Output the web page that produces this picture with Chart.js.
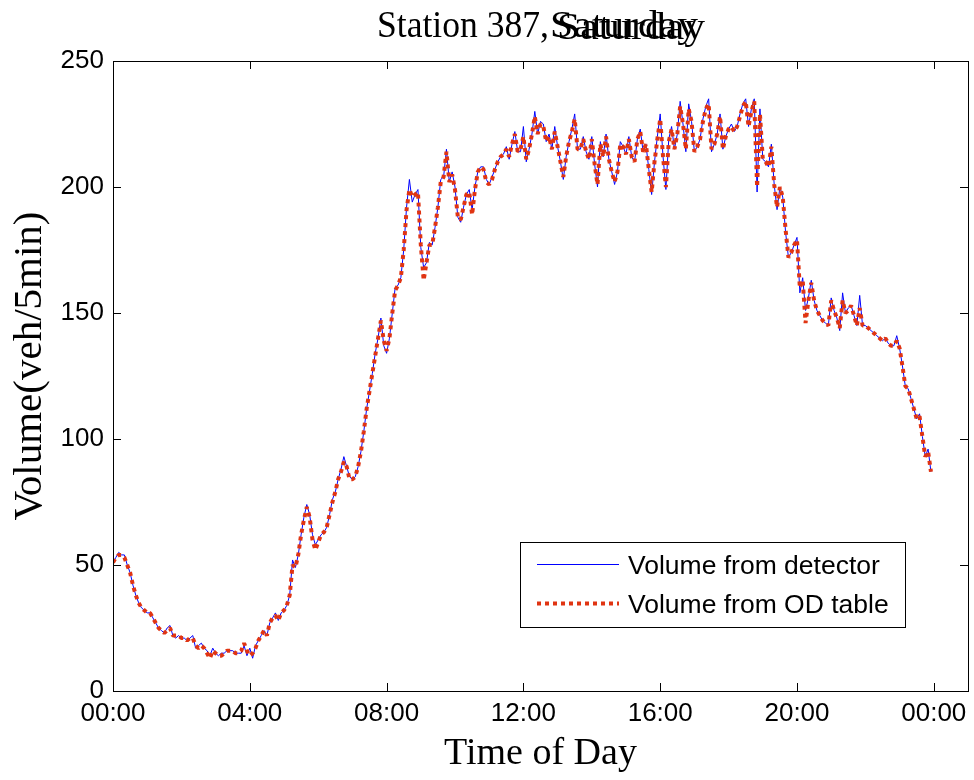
<!DOCTYPE html>
<html>
<head>
<meta charset="utf-8">
<title>Station 387, Saturday</title>
<script src="https://cdn.jsdelivr.net/npm/chart.js@4.4.1/dist/chart.umd.min.js"></script>
<style>
  html, body { margin: 0; padding: 0; background: #fff; }
  #wrap { width: 974px; height: 780px; }
</style>
</head>
<body>
<div id="wrap"><canvas id="my_Chart" width="974" height="780"></canvas></div>
<script>
// 5-minute volumes, 00:00 .. 23:55 (288 samples)
var detector = [
  51,53,55,54,54,50,47,42,38,35,33,32,
  31,31,29,27,25,24,23,25,26,22,21,22,
  21,21,20,21,22,17,18,19,17,16,14,17,
  15,14,15,15,16,16,16,15,15,15,18,14,
  17,13,18,20,22,24,22,27,29,31,28,31,
  32,34,38,52,49,54,62,69,74,70,62,58,
  60,62,63,65,70,76,79,84,88,93,89,85,
  84,85,89,95,103,112,119,126,134,140,148,137,
  134,140,150,160,161,164,175,192,203,194,197,199,
  176,168,170,178,177,184,192,203,204,215,202,206,
  200,188,186,192,197,199,191,200,206,208,208,203,
  201,204,207,210,212,213,216,211,217,222,214,214,
  224,210,215,221,230,221,226,225,218,221,215,224,
  216,210,203,212,218,223,229,215,215,220,214,211,
  220,209,200,218,212,221,211,206,201,206,218,216,
  213,220,212,210,219,223,214,217,207,197,210,220,
  229,212,199,219,224,215,221,234,225,214,233,226,
  214,216,219,227,232,235,214,217,221,229,215,220,
  223,225,222,224,229,233,235,224,231,235,198,231,
  211,210,208,217,201,191,200,196,182,172,174,177,
  180,158,164,151,156,163,155,151,149,147,146,145,
  156,151,148,143,158,150,152,153,149,145,157,145,
  145,144,143,142,141,140,139,140,138,137,137,141,
  136,129,121,120,116,112,108,110,101,93,96,87
];

var odTable = [
  51,53,54,54,53,50,47,42,38,35,33,32,
  31,31,29,27,25,24,23,24,25,22,22,22,
  21,21,20,21,21,18,17,18,17,15,13,16,
  15,14,14,15,16,16,16,15,15,16,19,16,
  14,15,17,20,22,24,22,27,29,30,28,31,
  32,34,38,50,49,54,62,68,73,69,60,56,
  59,62,63,65,70,75,79,84,87,91,89,84,
  84,85,89,95,103,112,119,126,133,140,147,139,
  135,140,150,159,161,164,175,191,199,196,197,198,
  177,163,170,177,177,184,192,202,204,214,202,205,
  199,188,187,192,197,198,189,199,206,208,207,202,
  201,203,207,210,212,213,215,212,217,221,214,215,
  220,211,215,221,228,221,225,224,218,220,215,222,
  216,210,204,212,218,222,227,215,215,219,214,211,
  219,209,201,217,212,220,211,206,202,206,217,216,
  213,219,212,210,219,222,214,217,207,198,210,219,
  227,212,200,218,223,215,221,232,225,215,231,226,
  214,216,219,226,231,233,215,217,221,228,215,220,
  223,224,222,224,228,232,234,224,230,234,200,229,
  211,210,208,216,201,192,200,196,183,172,174,177,
  179,160,163,146,155,162,155,151,149,147,146,145,
  155,151,148,144,155,150,151,153,149,145,152,145,
  145,144,143,142,141,140,139,140,138,137,137,139,
  136,129,121,120,116,112,108,109,101,93,95,87
];

var seriesNames = ['Volume from detector', 'Volume from OD table'];
var xTickStep = 240;               // minutes between time labels
var titleHead = 'Station 387,';
var titleDay = 'Saturday';
var xTitle = 'Time of Day';
var yTitle = 'Volume(veh/5min)';

var minutes = detector.map(function (v, i) { return i * 5; });

function toPoints(values) {
  return values.map(function (v, i) { return { x: minutes[i], y: v }; });
}

function hhmm(value) {
  var m = ((value % 1440) + 1440) % 1440;
  var h = Math.floor(m / 60);
  var mm = m % 60;
  return (h < 10 ? '0' : '') + h + ':' + (mm < 10 ? '0' : '') + mm;
}

var SERIF = '"Liberation Serif", "Times New Roman", serif';
var SANS = '"Liberation Sans", Arial, sans-serif';

// text squeezed/stretched to a target width, like the old figure's raster fonts
function fitText(ctx, text, x, y, width) {
  var w = ctx.measureText(text).width;
  ctx.save();
  ctx.translate(x, y);
  ctx.scale(width / w, 1);
  ctx.fillText(text, 0, 0);
  ctx.restore();
}

// MATLAB style box with inward ticks on all four sides
var boxPlugin = {
  id: 'boxPlugin',
  afterDatasetsDraw: function (chart) {
    var ctx = chart.ctx, a = chart.chartArea, sx = chart.scales.x, sy = chart.scales.y;
    var len = 8;
    ctx.save();
    ctx.strokeStyle = '#000';
    ctx.lineWidth = 1;
    ctx.beginPath();
    sx.ticks.forEach(function (t) {
      var px = Math.round(sx.getPixelForValue(t.value)) + 0.5;
      ctx.moveTo(px, a.bottom); ctx.lineTo(px, a.bottom - len);
      ctx.moveTo(px, a.top); ctx.lineTo(px, a.top + len);
    });
    sy.ticks.forEach(function (t) {
      var py = Math.round(sy.getPixelForValue(t.value)) + 0.5;
      ctx.moveTo(a.left, py); ctx.lineTo(a.left + len, py);
      ctx.moveTo(a.right, py); ctx.lineTo(a.right - len, py);
    });
    ctx.stroke();
    ctx.strokeRect(Math.round(a.left) + 0.5, Math.round(a.top) + 0.5,
      Math.round(a.right - a.left), Math.round(a.bottom - a.top));
    ctx.restore();
  }
};

// title (with the day drawn twice, as in the original) and y label
var titlePlugin = {
  id: 'titlePlugin',
  afterDraw: function (chart) {
    var ctx = chart.ctx;
    ctx.save();
    ctx.fillStyle = '#000';
    ctx.font = '38px ' + SERIF;
    ctx.textBaseline = 'alphabetic';
    ctx.textAlign = 'left';
    fitText(ctx, titleHead, 377, 37, 172);
    fitText(ctx, titleDay, 550, 37, 148);
    fitText(ctx, titleDay, 557, 39, 148);

    ctx.font = '41px ' + SERIF;
    ctx.textAlign = 'center';
    ctx.textBaseline = 'middle';
    ctx.translate(30, 366);
    ctx.rotate(-Math.PI / 2);
    ctx.fillText(yTitle, 0, 0);
    ctx.restore();
  }
};

// boxed legend inside the axes, lower right
var legendPlugin = {
  id: 'legendPlugin',
  afterDraw: function (chart) {
    var ctx = chart.ctx;
    var bx = 520, by = 542, bw = 385, bh = 85;
    ctx.save();
    ctx.fillStyle = '#fff';
    ctx.fillRect(bx, by, bw, bh);
    ctx.strokeStyle = '#000';
    ctx.lineWidth = 1;
    ctx.strokeRect(bx + 0.5, by + 0.5, bw, bh);
    ctx.font = '26.5px ' + SANS;
    ctx.textBaseline = 'middle';
    chart.data.datasets.forEach(function (ds, i) {
      var y = by + 22 + i * 39;
      ctx.save();
      ctx.strokeStyle = ds.borderColor;
      ctx.lineWidth = ds.borderWidth;
      ctx.lineCap = 'butt';
      ctx.setLineDash(ds.borderDash || []);
      ctx.beginPath();
      ctx.moveTo(537, y + 0.5);
      ctx.lineTo(619, y + 0.5);
      ctx.stroke();
      ctx.restore();
      ctx.fillStyle = '#000';
      ctx.fillText(ds.label, 628, y + 2.5);
    });
    ctx.restore();
  }
};

var myData = {
  type: 'line',
  data: {
    datasets: [
      {
        label: seriesNames[0],
        data: toPoints(detector),
        borderColor: '#0000ff',
        borderWidth: 1,
        pointRadius: 0,
        tension: 0,
        order: 1
      },
      {
        label: seriesNames[1],
        data: toPoints(odTable),
        borderColor: 'rgb(224,52,18)',
        borderWidth: 4,
        borderDash: [4, 4],
        borderCapStyle: 'butt',
        borderJoinStyle: 'bevel',
        pointRadius: 0,
        tension: 0,
        order: 0
      }
    ]
  },
  options: {
    responsive: false,
    animation: false,
    layout: { padding: { left: 0, right: 6, top: 61, bottom: 0 } },
    plugins: {
      legend: { display: false },
      title: { display: false },
      tooltip: { enabled: false }
    },
    scales: {
      x: {
        type: 'linear',
        min: 0,
        max: 1500,
        grid: { display: false, drawTicks: false },
        border: { display: false },
        ticks: {
          stepSize: xTickStep,
          includeBounds: false,
          maxRotation: 0,
          autoSkip: false,
          padding: 7,
          color: '#000',
          font: { family: SANS, size: 26 },
          callback: function (v) { return hhmm(v); }
        },
        title: {
          display: true,
          text: xTitle,
          color: '#000',
          font: { family: SERIF, size: 38 },
          padding: { top: 0, bottom: 3 }
        },
        afterFit: function (scale) { scale.height = 89; }
      },
      y: {
        min: 0,
        max: 250,
        grid: { display: false, drawTicks: false },
        border: { display: false },
        ticks: {
          stepSize: 50,
          padding: 9,
          color: '#000',
          font: { family: SANS, size: 26 }
        },
        afterFit: function (scale) { scale.width = 113; }
      }
    }
  },
  plugins: [boxPlugin, titlePlugin, legendPlugin]
};

var mySv = new Chart(document.getElementById('my_Chart').getContext('2d'), myData);
</script>
</body>
</html>
